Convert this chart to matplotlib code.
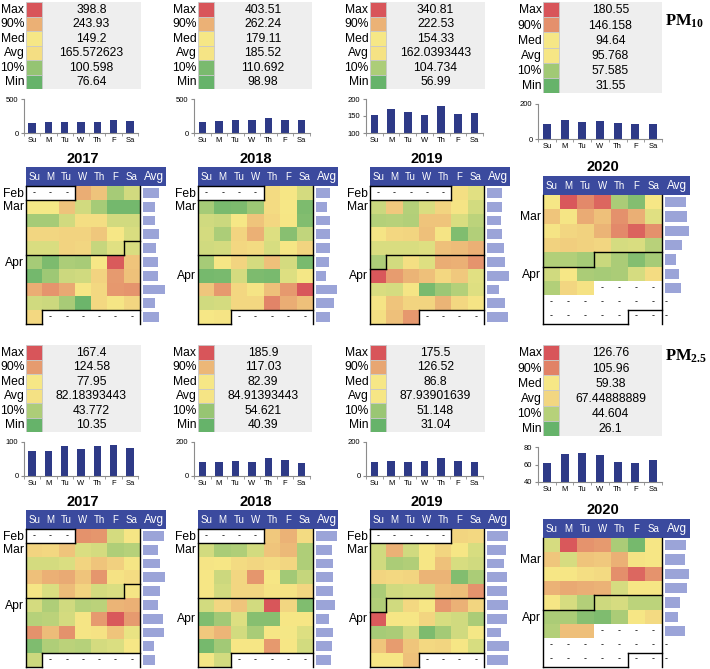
import numpy as np
import matplotlib.pyplot as plt
from matplotlib.colors import LinearSegmentedColormap, TwoSlopeNorm

nan = np.nan

plt.rcParams.update({
    "font.family": "Liberation Sans",
    "mathtext.fontset": "custom",
    "mathtext.rm": "Liberation Serif",
    "mathtext.bf": "Liberation Serif:bold",
})

days = ["Su", "M", "Tu", "W", "Th", "F", "Sa"]
stat_labels = ["Max", "90%", "Med", "Avg", "10%", "Min"]
years = ["2017", "2018", "2019", "2020"]

# summary stats: Max, 90%, Med, Avg, 10%, Min
pm10_stats_2017 = [398.8, 243.93, 149.2, 165.572623, 100.598, 76.64]
pm10_stats_2018 = [403.51, 262.24, 179.11, 185.52, 110.692, 98.98]
pm10_stats_2019 = [340.81, 222.53, 154.33, 162.0393443, 104.734, 56.99]
pm10_stats_2020 = [180.55, 146.158, 94.64, 95.768, 57.585, 31.55]
pm25_stats_2017 = [167.4, 124.58, 77.95, 82.18393443, 43.772, 10.35]
pm25_stats_2018 = [185.9, 117.03, 82.39, 84.91393443, 54.621, 40.39]
pm25_stats_2019 = [175.5, 126.52, 86.8, 87.93901639, 51.148, 31.04]
pm25_stats_2020 = [126.76, 105.96, 59.38, 67.44888889, 44.604, 26.1]

# day-of-week means
pm10_week_2017 = [145, 158, 168, 158, 168, 195, 170]
pm10_week_2018 = [157, 172, 196, 186, 216, 196, 186]
pm10_week_2019 = [153, 170, 161, 153, 178, 156, 158]
pm10_week_2020 = [88, 107, 97, 103, 93, 88, 88]
pm25_week_2017 = [73, 75, 88, 80, 88, 91, 83]
pm25_week_2018 = [80, 80, 90, 84, 106, 96, 74]
pm25_week_2019 = [84, 90, 84, 90, 106, 90, 84]
pm25_week_2020 = [62, 72, 73, 71, 63, 62, 65]

# daily values, one row per calendar week (Su..Sa)
pm10_days_2017 = [
    [nan, nan, nan, 249, 212, 109, 131],
    [149, 149, 212, 131, 109, 84, 84],
    [109, 109, 131, 165, 165, 131, 131],
    [179, 179, 185, 185, 205, 150, 135],
    [135, 135, 185, 180, 125, 138, 135],
    [109, 88, 112, 110, 150, 390, 210],
    [84, 105, 128, 130, 185, 280, 215],
    [250, 290, 255, 152, 175, 285, 290],
    [130, 128, 110, 80, 175, 155, 180],
    [175, nan, nan, nan, nan, nan, nan],
]
pm10_days_2018 = [
    [nan, nan, nan, nan, 200, 182, 160],
    [135, 110, 112, 130, 200, 180, 112],
    [158, 155, 180, 235, 205, 182, 115],
    [160, 138, 210, 265, 165, 118, 150],
    [158, 160, 205, 200, 162, 182, 210],
    [135, 182, 210, 160, 240, 160, 110],
    [108, 110, 160, 112, 110, 165, 178],
    [230, 300, 205, 185, 240, 300, 400],
    [158, 160, 205, 205, 330, 270, 240],
    [180, 185, nan, nan, nan, nan, nan],
]
pm10_days_2019 = [
    [nan, nan, nan, nan, nan, 165, 140],
    [125, 195, 110, 135, 180, 160, 130],
    [110, 112, 108, 200, 200, 135, 115],
    [160, 175, 178, 205, 160, 75, 108],
    [135, 135, 135, 138, 205, 210, 225],
    [105, 130, 165, 138, 230, 225, 260],
    [335, 250, 220, 205, 175, 195, 140],
    [135, 132, 158, 70, 95, 110, 138],
    [160, 200, 180, 180, 220, 175, 160],
    [165, 205, 255, nan, nan, nan, nan],
]
pm10_days_2020 = [
    [95, 178, 150, 170, 62, 45, 95],
    [115, 96, 130, 118, 145, 128, 85],
    [97, 105, 108, 125, 150, 172, 145],
    [108, 110, 108, 105, 80, 82, 68],
    [65, 65, 60, 75, 62, 45, 60],
    [78, 95, 62, 60, 62, 80, 102],
    [65, 105, 98, nan, nan, nan, nan],
    [nan, nan, nan, nan, nan, nan, nan],
    [nan, nan, nan, nan, nan, nan, nan],
]
pm25_days_2017 = [
    [nan, nan, nan, 130, 128, 62, 80],
    [90, 88, 100, 65, 62, 45, 48],
    [62, 62, 65, 90, 100, 92, 80],
    [102, 112, 115, 100, 128, 82, 85],
    [80, 65, 105, 90, 62, 65, 80],
    [62, 45, 60, 48, 50, 110, 112],
    [48, 50, 62, 80, 125, 165, 125],
    [130, 105, 130, 80, 82, 100, 72],
    [22, 45, 50, 48, 62, 65, 78],
    [58, nan, nan, nan, nan, nan, nan],
]
pm25_days_2018 = [
    [nan, nan, nan, nan, 105, 120, 92],
    [72, 60, 62, 72, 108, 115, 62],
    [85, 84, 92, 95, 92, 95, 62],
    [84, 70, 95, 140, 84, 58, 68],
    [84, 72, 95, 95, 86, 86, 95],
    [72, 95, 108, 72, 185, 95, 48],
    [48, 58, 75, 50, 50, 84, 84],
    [105, 118, 72, 60, 84, 82, 75],
    [45, 58, 84, 84, 138, 84, 72],
    [82, 72, nan, nan, nan, nan, nan],
]
pm25_days_2019 = [
    [nan, nan, nan, nan, nan, 98, 96],
    [72, 120, 72, 88, 98, 88, 75],
    [72, 58, 60, 88, 110, 75, 72],
    [98, 96, 98, 118, 118, 42, 58],
    [58, 72, 74, 74, 110, 112, 138],
    [60, 72, 96, 88, 135, 120, 98],
    [172, 88, 88, 98, 75, 72, 58],
    [56, 58, 72, 40, 55, 72, 86],
    [108, 132, 108, 96, 98, 88, 75],
    [88, 88, 110, nan, nan, nan, nan],
]
pm25_days_2020 = [
    [52, 125, 98, 95, 42, 30, 60],
    [75, 52, 76, 74, 85, 62, 60],
    [60, 60, 64, 66, 100, 118, 98],
    [84, 88, 86, 84, 52, 60, 60],
    [60, 52, 44, 50, 52, 46, 46],
    [42, 42, 34, 32, 42, 60, 66],
    [44, 78, 78, nan, nan, nan, nan],
    [nan, nan, nan, nan, nan, nan, nan],
    [nan, nan, nan, nan, nan, nan, nan],
]

# ---------------------------------------------------------------- style
W, H = 710, 669
HEAD = "#3B4A9E"
BAR = "#2E3A87"
AVGBAR = "#9BA4D8"
GREYBOX = "#EEEEEE"
cmap = LinearSegmentedColormap.from_list("gyr", ["#66B36A", "#F6E886", "#D8555A"])

fig = plt.figure(figsize=(W / 100, H / 100), dpi=100)


def px_ax(x0, y0, x1, y1):
    ax = fig.add_axes([x0 / W, 1 - y1 / H, (x1 - x0) / W, (y1 - y0) / H])
    ax.patch.set_alpha(0)
    return ax


def seg(ax, xs, ys):
    ax.plot(xs, ys, color="black", lw=1.0, clip_on=False,
            solid_capstyle="projecting", zorder=5)


# x layout of the four year columns
cols = [
    dict(sw=26, tx=141, bx0=24, bx1=138, gx0=26, gx1=140, hx1=166),
    dict(sw=198, tx=312, bx0=194, bx1=310, gx0=198, gx1=313, hx1=338),
    dict(sw=370, tx=485, bx0=366, bx1=483, gx0=370, gx1=484, hx1=510),
    dict(sw=543, tx=662, bx0=538, bx1=662, gx0=543, gx1=662, hx1=690),
]
# y layout (PM10 row); the PM2.5 row is shifted down by 343 px
rows_std = dict(t0=2, t1=89, b0=99, b1=133, title=159, h0=167, h1=186, g1=324)
rows_2020 = dict(t0=2, t1=93, b0=104, b1=139, title=167, h0=176, h1=195, g1=324)

panels = [
    # row offset, stats, week, days, ylim, yticks, months, top blank, apr step, end step
    (0, pm10_stats_2017, pm10_week_2017, pm10_days_2017, (0, 500), [0, 500],
     [("Feb", 0), ("Mar", 1), ("Apr", 5)], 3, (4, 6), (9, 1)),
    (0, pm10_stats_2018, pm10_week_2018, pm10_days_2018, (0, 500), [0, 500],
     [("Feb", 0), ("Mar", 1), ("Apr", 6)], 4, (5, 0), (9, 2)),
    (0, pm10_stats_2019, pm10_week_2019, pm10_days_2019, (100, 200), [100, 150, 200],
     [("Feb", 0), ("Mar", 1), ("Apr", 6)], 5, (5, 1), (9, 3)),
    (0, pm10_stats_2020, pm10_week_2020, pm10_days_2020, (0, 200), [0, 200],
     [("Mar", 1), ("Apr", 5)], 0, (4, 3), (8, 5)),
    (343, pm25_stats_2017, pm25_week_2017, pm25_days_2017, (0, 100), [0, 100],
     [("Feb", 0), ("Mar", 1), ("Apr", 5)], 3, (4, 6), (9, 1)),
    (343, pm25_stats_2018, pm25_week_2018, pm25_days_2018, (0, 200), [0, 200],
     [("Feb", 0), ("Mar", 1), ("Apr", 6)], 4, (5, 0), (9, 2)),
    (343, pm25_stats_2019, pm25_week_2019, pm25_days_2019, (0, 200), [0, 200],
     [("Feb", 0), ("Mar", 1), ("Apr", 6)], 5, (5, 1), (9, 3)),
    (343, pm25_stats_2020, pm25_week_2020, pm25_days_2020, (40, 80), [40, 60, 80],
     [("Mar", 1), ("Apr", 5)], 0, (4, 3), (8, 5)),
]

for i, (off, stats, week, cells, ylim, yticks, months, blank, apr, end) in enumerate(panels):
    c = cols[i % 4]
    r = rows_2020 if i % 4 == 3 else rows_std
    arr = np.array(cells, dtype=float)
    n = arr.shape[0]
    norm = TwoSlopeNorm(vmin=stats[5], vcenter=stats[2], vmax=stats[0])

    # ---- stats table
    tw = c["tx"] - c["sw"]
    sww = 16
    ax = px_ax(c["sw"], r["t0"] + off, c["tx"], r["t1"] + off)
    ax.set_xlim(0, tw)
    ax.set_ylim(6, 0)
    ax.axis("off")
    ax.barh(np.arange(6) + 0.5, tw - sww, left=sww, height=1.0, color=GREYBOX)
    ax.barh(np.arange(6) + 0.5, sww, left=0, height=1.0,
            color=[cmap(norm(v)) for v in stats], edgecolor="#C8C8C8", linewidth=0.6)
    for k, (lab, v) in enumerate(zip(stat_labels, stats)):
        ax.text(-1.5, k + 0.55, lab, ha="right", va="center", fontsize=8.7, clip_on=False)
        ax.text(sww + (tw - sww) / 2, k + 0.55, str(v), ha="center", va="center", fontsize=8.7)

    # ---- day-of-week bar chart
    ax = px_ax(c["bx0"], r["b0"] + off, c["bx1"], r["b1"] + off)
    ax.bar(np.arange(7), week, width=0.45, color=BAR)
    ax.set_xlim(-0.5, 6.5)
    ax.set_ylim(*ylim)
    ax.set_yticks(yticks)
    ax.set_xticks(np.arange(7))
    ax.set_xticklabels(days)
    ax.set_xticks(np.arange(8) - 0.5, minor=True)
    for s in ("top", "right"):
        ax.spines[s].set_visible(False)
    for s in ("left", "bottom"):
        ax.spines[s].set_color("#8C8C8C")
        ax.spines[s].set_linewidth(0.8)
    ax.tick_params(axis="x", which="major", length=0, labelsize=5.5, pad=3)
    ax.tick_params(axis="x", which="minor", length=2, color="#8C8C8C")
    ax.tick_params(axis="y", length=2, labelsize=5.5, pad=2, color="#8C8C8C")

    # ---- header band
    gx0, gx1, hx1 = c["gx0"], c["gx1"], c["hx1"]
    cw = (gx1 - gx0) / 7
    ax = px_ax(gx0, r["h0"] + off, hx1, r["h1"] + off)
    ax.set_xlim(gx0, hx1)
    ax.set_ylim(0, 1)
    ax.set_xticks([])
    ax.set_yticks([])
    ax.patch.set_alpha(1)
    ax.set_facecolor(HEAD)
    for s in ax.spines.values():
        s.set_visible(False)
    for k, d in enumerate(days):
        ax.text(gx0 + (k + 0.5) * cw, 0.48, d, ha="center", va="center",
                fontsize=7, color="white")
    ax.text((gx1 + hx1) / 2 + 1, 0.45, "Avg", ha="center", va="center",
            fontsize=8.5, color="white")
    fig.text((gx0 + gx1) / 2 / W, 1 - (r["title"] + off) / H, years[i % 4],
             ha="center", va="center", fontsize=10.5, fontweight="bold")

    # ---- calendar heat map
    g0 = r["h1"] + off
    g1 = r["g1"] + off
    ax = px_ax(gx0, g0, gx1, g1)
    ax.pcolormesh(np.arange(8), np.arange(n + 1), np.ma.masked_invalid(arr),
                  cmap=cmap, norm=norm)
    ax.set_xlim(0, 7)
    ax.set_ylim(n, 0)
    ax.axis("off")
    for (rr, cc) in zip(*np.where(np.isnan(arr))):
        ax.text(cc + 0.5, rr + 0.45, "-", ha="center", va="center", fontsize=6.5)
    for lab, rr in months:
        ax.text(-0.1, rr + 0.55, lab, ha="right", va="center", fontsize=8.7, clip_on=False)
    # borders
    seg(ax, [0, 0], [0, n])
    seg(ax, [7, 7], [0, n])
    if blank:
        seg(ax, [0, blank], [0, 0])
        seg(ax, [0, blank], [1, 1])
        seg(ax, [blank, blank], [0, 1])
    for (sr, sc) in (apr, end):
        seg(ax, [sc, 7], [sr, sr])
        if sc > 0:
            seg(ax, [sc, sc], [sr, sr + 1])
            seg(ax, [0, sc], [sr + 1, sr + 1])

    # ---- weekly average bars
    ax = px_ax(gx1 + 2.5, g0, hx1, g1)
    counts = np.sum(~np.isnan(arr), axis=1)
    means = np.where(counts > 0, np.nansum(arr, axis=1) / np.maximum(counts, 1), 0)
    ax.barh(np.arange(n) + 0.5, means, height=0.72, color=AVGBAR)
    ax.set_xlim(0, means.max() * 1.04)
    ax.set_ylim(n, 0)
    ax.axis("off")
    for rr in np.where(counts == 0)[0]:
        ax.text(0.02, rr + 0.45, "-", ha="left", va="center", fontsize=6.5,
                transform=ax.get_yaxis_transform())

fig.text(665 / W, 1 - 21 / H, r"$\mathbf{PM_{10}}$", ha="left", va="center", fontsize=12)
fig.text(665 / W, 1 - 356 / H, r"$\mathbf{PM_{2.5}}$", ha="left", va="center", fontsize=12)

fig.savefig("out.png", dpi=100, facecolor="white")
